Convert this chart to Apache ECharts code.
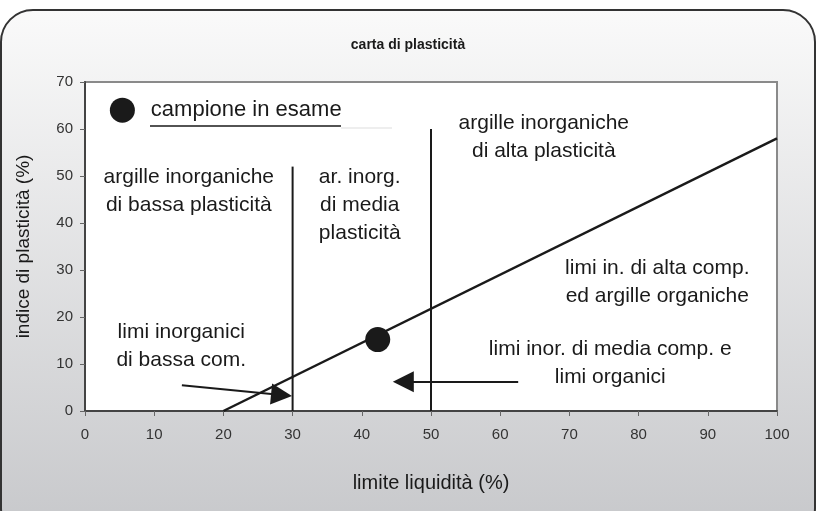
<!DOCTYPE html>
<html>
<head>
<meta charset="utf-8">
<script src="https://cdn.jsdelivr.net/npm/echarts@6/dist/echarts.min.js"></script>
<style>
  html, body { margin: 0; padding: 0; background: #fff; }
  #chart { width: 816px; height: 511px; }
</style>
</head>
<body>
<div id="chart"></div>
<script>
// limite liquidità / indice di plasticità
var xTicks = [0, 10, 20, 30, 40, 50, 60, 70, 80, 90, 100];
var yTicks = [0, 10, 20, 30, 40, 50, 60, 70];

// linea A e separazioni verticali
var lineaA = [[20, 0], [100, 58]];
var linea30 = [[30, 0], [30, 52]];
var linea50 = [[50, 0], [50, 60]];

// campione in esame
var campione = [[42.3, 15.2]];
var legendaPunto = [[5.4, 64]];

// frecce [da, a]
var frecce = [
  [[14.0, 5.5], [28.4, 3.4]],
  [[62.6, 6.2], [46.0, 6.2]]
];

// testi delle zone [x, y, testo]
var zone = [
  [15.0, 46.8, 'argille inorganiche\ndi bassa plasticità'],
  [39.7, 43.8, 'ar. inorg.\ndi media\nplasticità'],
  [66.3, 58.2, 'argille inorganiche\ndi alta plasticità'],
  [82.7, 27.4, 'limi in. di alta comp.\ned argille organiche'],
  [75.9, 10.1, 'limi inor. di media comp. e\nlimi organici'],
  [13.9, 13.7, 'limi inorganici\ndi bassa com.']
];

var chart = echarts.init(document.getElementById('chart'));

function segment(data, w) {
  return {
    type: 'line',
    data: data,
    symbol: 'none',
    silent: true,
    lineStyle: { color: '#1a1a1a', width: w || 2 },
    z: 3
  };
}

chart.setOption({
  animation: false,
  textStyle: { fontFamily: 'Liberation Sans, Arial, sans-serif' },
  graphic: [
    {
      type: 'rect',
      z: -100,
      shape: { x: 1, y: 10, width: 814, height: 530, r: 32 },
      style: {
        fill: new echarts.graphic.LinearGradient(0, 0, 0, 1, [
          { offset: 0, color: '#fafafa' },
          { offset: 1, color: '#c6c7ca' }
        ]),
        stroke: '#333',
        lineWidth: 2
      }
    },
    {
      type: 'line',
      shape: { x1: 150, y1: 126, x2: 341, y2: 126 },
      style: { stroke: '#1a1a1a', lineWidth: 1.5 }
    },
    {
      type: 'line',
      shape: { x1: 341, y1: 128, x2: 392, y2: 128 },
      style: { stroke: '#ddd', lineWidth: 1 }
    }
  ],
  title: {
    text: 'carta di plasticità',
    left: 'center',
    top: 33,
    textStyle: {
      fontFamily: 'Liberation Sans Narrow, Liberation Sans, sans-serif',
      fontSize: 14,
      fontWeight: 'bold',
      color: '#1a1a1a'
    }
  },
  grid: {
    left: 85,
    right: 39,
    top: 82,
    bottom: 100,
    show: true,
    backgroundColor: '#fff',
    borderColor: '#8a8a8a',
    borderWidth: 2
  },
  xAxis: {
    type: 'value',
    min: 0,
    max: 100,
    interval: 10,
    name: 'limite liquidità (%)',
    nameLocation: 'middle',
    nameGap: 62,
    nameTextStyle: { fontSize: 20, color: '#1a1a1a' },
    axisLine: { show: true, onZero: false, lineStyle: { color: '#444', width: 2 } },
    axisTick: { show: true, length: 5, lineStyle: { color: '#666' } },
    axisLabel: { fontSize: 15, color: '#333', margin: 16 },
    splitLine: { show: false }
  },
  yAxis: {
    type: 'value',
    min: 0,
    max: 70,
    interval: 10,
    name: 'indice di plasticità (%)',
    nameLocation: 'middle',
    nameGap: 52,
    nameTextStyle: { fontSize: 19, color: '#1a1a1a' },
    axisLine: { show: true, onZero: false, lineStyle: { color: '#444', width: 2 } },
    axisTick: { show: true, length: 5, lineStyle: { color: '#666' } },
    axisLabel: { fontSize: 15, color: '#333', margin: 12 },
    splitLine: { show: false }
  },
  series: [
    segment(lineaA, 2.5),
    segment(linea30),
    segment(linea50),
    {
      type: 'lines',
      coordinateSystem: 'cartesian2d',
      silent: true,
      symbol: ['none', 'triangle'],
      symbolSize: [0, 21],
      lineStyle: { color: '#1a1a1a', width: 2, opacity: 1 },
      data: frecce.map(function (f) { return { coords: f }; }),
      z: 4
    },
    {
      type: 'scatter',
      data: campione,
      symbol: 'circle',
      symbolSize: 25,
      itemStyle: { color: '#1a1a1a', opacity: 1 },
      silent: true,
      z: 5
    },
    {
      type: 'scatter',
      data: legendaPunto,
      symbol: 'circle',
      symbolSize: 25,
      itemStyle: { color: '#1a1a1a', opacity: 1 },
      silent: true,
      label: {
        show: true,
        position: 'right',
        distance: 16,
        formatter: 'campione in esame',
        fontSize: 22,
        color: '#1a1a1a'
      },
      z: 5
    },
    {
      type: 'scatter',
      data: zone,
      symbolSize: 0,
      silent: true,
      itemStyle: { opacity: 1 },
      label: {
        show: true,
        position: 'inside',
        formatter: function (p) { return p.data[2]; },
        fontSize: 21,
        lineHeight: 28,
        align: 'center',
        color: '#1a1a1a',
        opacity: 1
      },
      z: 6
    }
  ]
});
</script>
</body>
</html>
